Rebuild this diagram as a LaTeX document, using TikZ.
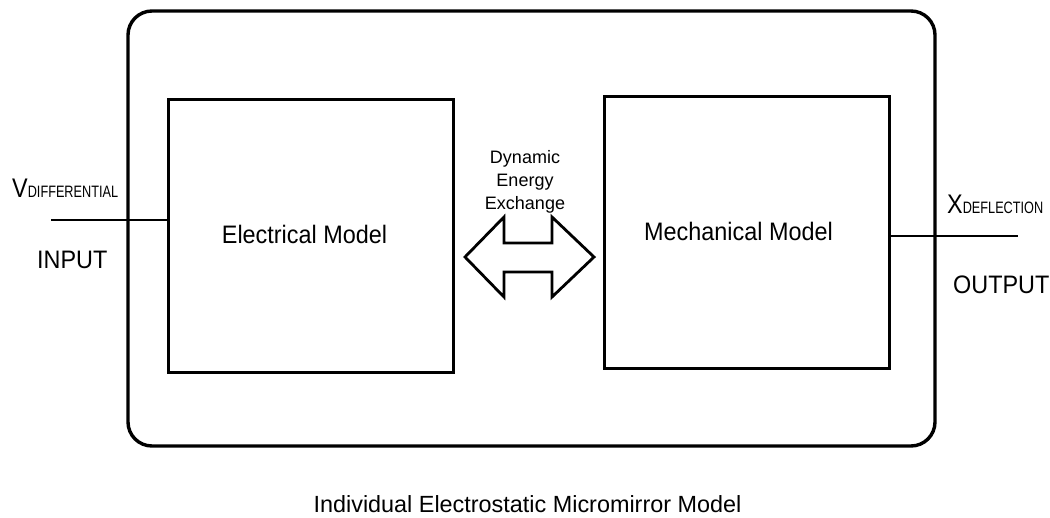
\documentclass[tikz,border=0pt]{standalone}
\usepackage{fontspec}
\setmainfont{Liberation Sans}
\begin{document}
\begin{tikzpicture}[x=1pt,y=-1pt,
  box/.style={draw,line width=3pt,inner sep=0pt,minimum width=285pt},
  outerbox/.style={draw,line width=3.4pt,rounded corners=24pt,inner sep=0pt,minimum width=807pt,minimum height=435pt},
  wire/.style={line width=2.8pt},
  lbl/.style={inner sep=0pt,font=\fontsize{23.4}{28}\selectfont},
  small/.style={inner sep=0pt,font=\fontsize{18}{22}\selectfont}
]
\useasboundingbox (0,0) rectangle (1050,517);
\node[outerbox] (outer) at (531.5,228.5) {};
\node[box,minimum height=273pt] (elec) at (310.5,235.5) {};
\node[box,minimum height=272pt] (mech) at (746.5,232) {};
\node[lbl,anchor=base] (elecT) at (304.5,243) {\scalebox{1}[1.08]{Electrical Model}};
\node[lbl,anchor=base] (mechT) at (738.5,240) {\scalebox{1}[1.08]{Mechanical Model}};
\node[lbl,anchor=base] (title) at (527.5,512) {Individual Electrostatic Micromirror Model};
\node[small,anchor=base] (dyn1) at (525,163) {Dynamic};
\node[small,anchor=base] (dyn2) at (525,186) {Energy};
\node[small,anchor=base] (dyn3) at (525,209) {Exchange};
\node[lbl,anchor=base west] (vlab) at (12,197) {\scalebox{1}[1.15]{V}\fontsize{12.7}{14}\selectfont\scalebox{1}[1.3]{DIFFERENTIAL}};
\node[lbl,anchor=base west] (xlab) at (947,213) {\scalebox{1}[1.15]{X}\fontsize{12.7}{14}\selectfont\scalebox{1}[1.3]{DEFLECTION}};
\node[lbl,anchor=base west] (inT) at (37,268) {\scalebox{1}[1.08]{INPUT}};
\node[lbl,anchor=base west] (outT) at (953,293) {\scalebox{1}[1.08]{OUTPUT}};
\coordinate (inL) at (51,220);
\coordinate (outR) at (1018,236);
\draw[wire] (inL) -- (inL -| elec.west);
\draw[wire] (mech.east |- outR) -- (outR);
% double arrow
\draw[line width=2.8pt,line join=miter]
  (465,257) -- (504,217) -- (504,243) -- (552,243) -- (552,217) -- (594,257)
  -- (552,297) -- (552,272) -- (504,272) -- (504,297) -- cycle;
\end{tikzpicture}
\end{document}
